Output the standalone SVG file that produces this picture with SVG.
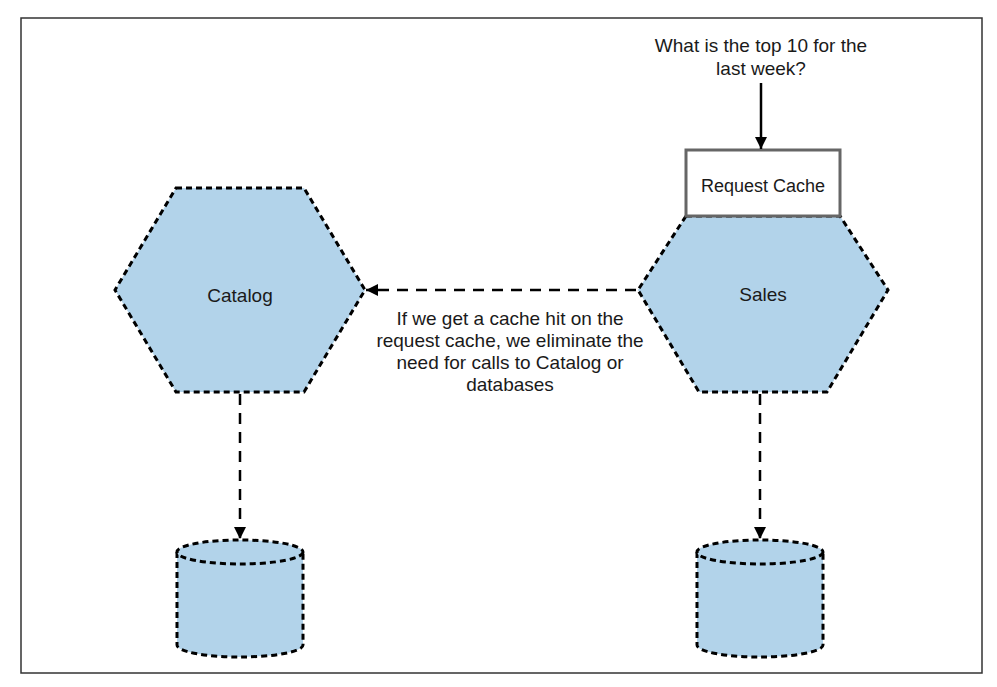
<svg xmlns="http://www.w3.org/2000/svg" width="997" height="687" viewBox="0 0 997 687">
<style>
text{font-family:"Liberation Sans",Arial,sans-serif;fill:#1a1a1a;text-anchor:middle}
.hex{fill:#b2d3ea;stroke:#000;stroke-width:3;stroke-dasharray:6 4}
.cyl{fill:#b2d3ea;stroke:#000;stroke-width:3;stroke-dasharray:6 4}
.dc{fill:none;stroke:#000;stroke-width:2.5;stroke-dasharray:11 8}
</style>
<defs>
<marker id="ah" viewBox="0 0 10 10" refX="10" refY="5" markerWidth="12" markerHeight="12" markerUnits="userSpaceOnUse" orient="auto">
<path d="M0,0 L10,5 L0,10 z" fill="#000"/>
</marker>
</defs>
<rect x="21" y="18" width="961" height="655" fill="#fff" stroke="#333" stroke-width="1.5"/>
<g id="catalog">
<polygon class="hex" points="176,188 304,188 365,290 304,392 176,392 115,290"/>
<text x="240" y="302" font-size="19">Catalog</text>
</g>
<g id="sales">
<polygon class="hex" points="686,216 840,216 888,290 827,392 699,392 638,290"/>
<text x="763" y="301" font-size="19">Sales</text>
</g>
<g id="request-cache">
<rect x="686" y="150" width="154" height="66" fill="#fff" stroke="#666" stroke-width="3"/>
<text x="763" y="192" font-size="18">Request Cache</text>
</g>
<g id="question">
<text x="761" y="52" font-size="19">What is the top 10 for the</text>
<text x="761" y="75" font-size="19">last week?</text>
</g>
<g id="catalog-db">
<path class="cyl" d="M177,552 L177,645 A63,12 0 0 0 303,645 L303,552"/>
<ellipse class="cyl" cx="240" cy="552" rx="63" ry="12"/>
</g>
<g id="sales-db">
<path class="cyl" d="M697,552 L697,645 A63,12 0 0 0 823,645 L823,552"/>
<ellipse class="cyl" cx="760" cy="552" rx="63" ry="12"/>
</g>
<g id="note">
<text x="510" y="325" font-size="19">If we get a cache hit on the</text>
<text x="510" y="347" font-size="19">request cache, we eliminate the</text>
<text x="510" y="369" font-size="19">need for calls to Catalog or</text>
<text x="510" y="391" font-size="19">databases</text>
</g>
<g id="connectors">
<line x1="761" y1="83" x2="761" y2="149" stroke="#000" stroke-width="2.5" marker-end="url(#ah)"/>
<line class="dc" x1="636" y1="290" x2="366" y2="290" marker-end="url(#ah)"/>
<line class="dc" x1="240" y1="394" x2="240" y2="539" marker-end="url(#ah)"/>
<line class="dc" x1="760" y1="394" x2="760" y2="539" marker-end="url(#ah)"/>
</g>
</svg>
